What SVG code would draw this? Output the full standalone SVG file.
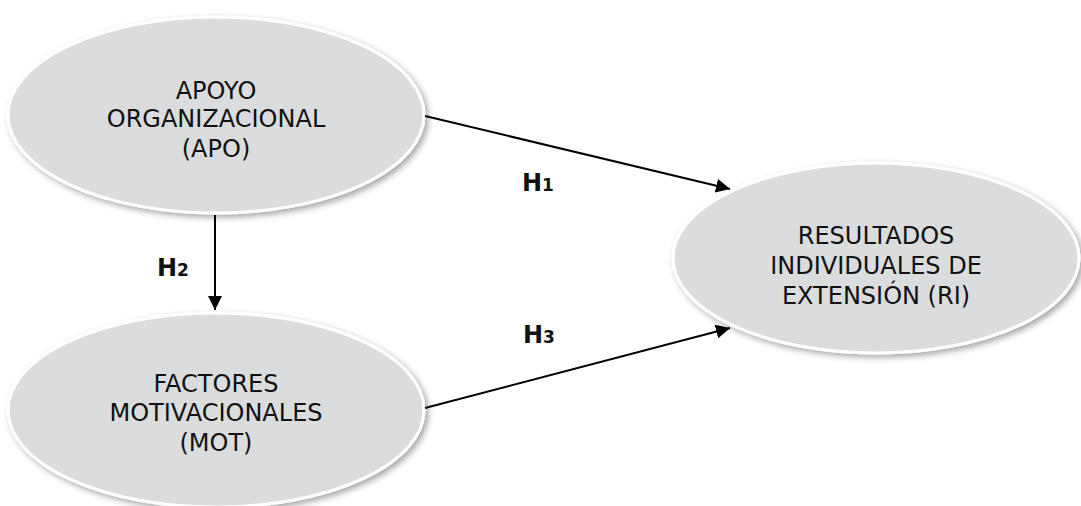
<svg xmlns="http://www.w3.org/2000/svg" width="1081" height="506" viewBox="0 0 1081 506">
<style>
.node ellipse{fill:#dbdcdd;stroke:#ffffff;stroke-width:3;filter:url(#sh)}
.lbl{font-family:"DejaVu Sans",Verdana,sans-serif;font-size:24px;fill:#111;text-anchor:middle}
.h{font-family:"DejaVu Sans",Verdana,sans-serif;font-size:24px;font-weight:bold;fill:#111}
.h tspan{font-size:17px}
.conn line{stroke:#000;stroke-width:2;marker-end:url(#ah)}
</style>
<defs>
<filter id="sh" x="-10%" y="-10%" width="125%" height="130%">
<feDropShadow dx="3" dy="3" stdDeviation="3" flood-color="#000" flood-opacity="0.35"/>
</filter>
<marker id="ah" viewBox="0 0 10 10" refX="10" refY="5" markerWidth="7" markerHeight="7" markerUnits="strokeWidth" orient="auto">
<path d="M0,0 L10,5 L0,10 z" fill="#000"/>
</marker>
</defs>
<rect width="1081" height="506" fill="#fff"/>
<g id="apo" class="node">
<ellipse cx="216" cy="115" rx="208" ry="98"/>
<text class="lbl" x="216" y="99">APOYO</text>
<text class="lbl" x="216" y="127">ORGANIZACIONAL</text>
<text class="lbl" x="216" y="157">(APO)</text>
</g>
<g id="mot" class="node">
<ellipse cx="216" cy="410" rx="208" ry="97"/>
<text class="lbl" x="216" y="392">FACTORES</text>
<text class="lbl" x="216" y="421">MOTIVACIONALES</text>
<text class="lbl" x="216" y="451">(MOT)</text>
</g>
<g id="ri" class="node">
<ellipse cx="876" cy="258" rx="203" ry="95"/>
<text class="lbl" x="876" y="244">RESULTADOS</text>
<text class="lbl" x="876" y="274">INDIVIDUALES DE</text>
<text class="lbl" x="876" y="304">EXTENSIÓN (RI)</text>
</g>
<g id="connectors" class="conn">
<line x1="425" y1="116" x2="730" y2="189"/>
<line x1="215" y1="215" x2="215" y2="310"/>
<line x1="425" y1="408" x2="730" y2="328"/>
</g>
<g id="labels">
<text class="h" x="522" y="191">H<tspan>1</tspan></text>
<text class="h" x="157" y="276">H<tspan>2</tspan></text>
<text class="h" x="523" y="343">H<tspan>3</tspan></text>
</g>
</svg>
